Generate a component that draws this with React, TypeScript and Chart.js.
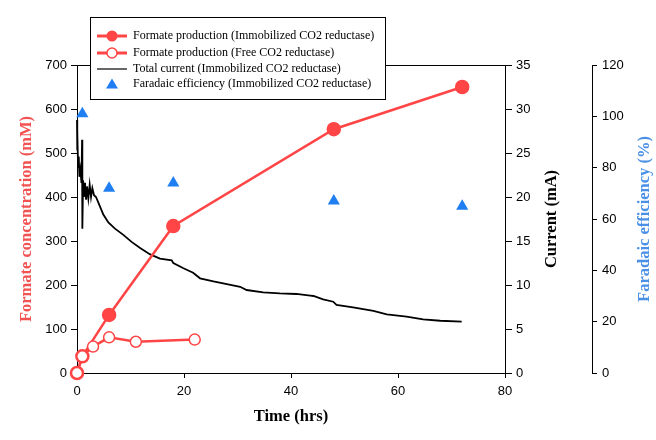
import React, { useEffect, useRef } from 'react';
import { Chart, registerables } from 'chart.js';

Chart.register(...registerables);

// ---- data ----
const timeImmob = [0, 1, 6, 18, 48, 72];
const formateImmob = [0, 38, 132, 334, 554, 650];

const timeFree = [0, 1, 3, 6, 11, 22];
const formateFree = [0, 38, 60, 81, 71, 76];

const timeFE = [1, 6, 18, 48, 72];
const faradaic = [101, 72, 74, 67, 65];

const timeCurrent = [
  0, 0.02, 0.08, 0.2, 0.33, 0.45, 0.64, 0.83, 0.95, 1.0, 1.14, 1.31, 1.5, 1.7, 1.87, 2.12, 2.37, 2.62,
  2.87, 3.18, 3.55, 4.17, 4.92, 5.86, 7.1, 8.66, 10.2, 11.8, 13.6, 15.5, 17.7, 18.0, 19.9, 21.7, 23.0,
  25.5, 28.0, 30.5, 31.7, 34.8, 37.9, 41.0, 43.6, 44.2, 46.0, 47.9, 48.5, 51.6, 55.4, 57.9, 61.6, 64.7,
  67.9, 71.9,
];
const current = [
  28.75, 25.3, 27.6, 23.4, 24.6, 22.3, 23.1, 21.6, 26.5, 16.4, 21.9, 20.0, 21.6, 19.7, 21.2, 19.85, 21.4,
  20.0, 21.0, 20.2, 20.0, 19.1, 18.0, 17.1, 16.4, 15.7, 14.9, 14.2, 13.5, 13.0, 12.8, 12.5, 11.9, 11.4,
  10.76, 10.4, 10.1, 9.8, 9.43, 9.17, 9.05, 8.98, 8.79, 8.75, 8.37, 8.1, 7.73, 7.46, 7.05, 6.67, 6.4, 6.1,
  5.94, 5.83,
];

const xRange = [0, 80, 20];
const formateRange = [0, 700, 100];
const currentRange = [0, 35, 5];
const feRange = [0, 120, 20];

const legendLabels = [
  'Formate production (Immobilized CO2 reductase)',
  'Formate production (Free CO2 reductase)',
  'Total current (Immobilized CO2 reductase)',
  'Faradaic efficiency (Immobilized CO2 reductase)',
];
const xTitle = 'Time (hrs)';
const yTitle = 'Formate concentration (mM)';
const curTitle = 'Current (mA)';
const feTitle = 'Faradaic efficiency (%)';

const RED = '#ff4545';
const RED_T = '#f25252';
const BLUE = '#1f7ff2';
const BLUE_T = '#4a90e6';

const zip = (xs: number[], ys: number[]) => xs.map((x, i) => ({ x, y: ys[i] }));

const tickFont = { family: 'Liberation Sans', size: 13 };

const overlay = {
  id: 'overlay',
  afterDraw(chart: any) {
    const ctx = chart.ctx as CanvasRenderingContext2D;
    const ca = chart.chartArea;
    ctx.save();
    // top frame
    ctx.strokeStyle = '#000';
    ctx.lineWidth = 1;
    ctx.beginPath();
    ctx.moveTo(ca.left, Math.round(ca.top) + 0.5);
    ctx.lineTo(ca.right, Math.round(ca.top) + 0.5);
    ctx.stroke();

    // titles
    const cy = (ca.top + ca.bottom) / 2;
    ctx.font = 'bold 16.5px "Liberation Serif"';
    ctx.textAlign = 'center';
    ctx.textBaseline = 'middle';
    const vt = (text: string, x: number, color: string) => {
      ctx.save();
      ctx.translate(x, cy);
      ctx.rotate(-Math.PI / 2);
      ctx.fillStyle = color;
      ctx.fillText(text, 0, 0);
      ctx.restore();
    };
    vt(yTitle, 27, RED_T);
    vt(curTitle, 552, '#000');
    vt(feTitle, 645, BLUE_T);
    ctx.fillStyle = '#000';
    ctx.fillText(xTitle, (ca.left + ca.right) / 2, 417);

    // legend
    const bx = 90.5, by = 17.5, bw = 295, bh = 82;
    ctx.fillStyle = '#fff';
    ctx.fillRect(bx, by, bw, bh);
    ctx.strokeStyle = '#000';
    ctx.lineWidth = 1;
    ctx.strokeRect(bx, by, bw, bh);
    const rows = [36, 53, 69, 84];
    const mx0 = 97, mx1 = 127, mc = 112;
    ctx.font = '12px "Liberation Serif"';
    ctx.textAlign = 'left';
    ctx.textBaseline = 'middle';
    rows.forEach((ry, i) => {
      if (i < 3) {
        ctx.strokeStyle = i < 2 ? RED : '#000';
        ctx.lineWidth = i < 2 ? 3 : 1.2;
        ctx.beginPath();
        ctx.moveTo(mx0, ry);
        ctx.lineTo(mx1, ry);
        ctx.stroke();
      }
      if (i === 0) {
        ctx.fillStyle = RED;
        ctx.beginPath();
        ctx.arc(mc, ry, 5.5, 0, Math.PI * 2);
        ctx.fill();
      } else if (i === 1) {
        ctx.fillStyle = '#fff';
        ctx.strokeStyle = RED;
        ctx.lineWidth = 1.5;
        ctx.beginPath();
        ctx.arc(mc, ry, 5, 0, Math.PI * 2);
        ctx.fill();
        ctx.stroke();
      } else if (i === 3) {
        ctx.fillStyle = BLUE;
        ctx.beginPath();
        ctx.moveTo(mc, ry - 5.5);
        ctx.lineTo(mc + 6, ry + 4.5);
        ctx.lineTo(mc - 6, ry + 4.5);
        ctx.closePath();
        ctx.fill();
      }
      ctx.fillStyle = '#000';
      ctx.fillText(legendLabels[i], 133, ry);
    });
    ctx.restore();
  },
};

const axisCommon = (tickLength: number) => ({
  grid: { drawOnChartArea: false, color: '#000', tickLength, tickWidth: 1 },
  border: { display: true, color: '#000', width: 1 },
});

export default function App() {
  const ref = useRef<HTMLCanvasElement | null>(null);
  useEffect(() => {
    document.body.style.margin = '0';
    const canvas = ref.current;
    if (!canvas) return;
    const chart = new Chart(canvas, {
      type: 'line',
      data: {
        datasets: [
          {
            label: legendLabels[1],
            data: zip(timeFree, formateFree),
            yAxisID: 'y',
            borderColor: RED,
            borderWidth: 2.5,
            backgroundColor: '#fff',
            pointBackgroundColor: '#fff',
            pointBorderColor: RED,
            pointBorderWidth: 1.5,
            pointRadius: 5.5,
            clip: 10,
            order: 0,
          },
          {
            label: legendLabels[0],
            data: zip(timeImmob, formateImmob),
            yAxisID: 'y',
            borderColor: RED,
            borderWidth: 2.5,
            backgroundColor: RED,
            pointBackgroundColor: RED,
            pointBorderColor: RED,
            pointRadius: 6,
            clip: 10,
            order: 1,
          },
          {
            label: legendLabels[3],
            data: zip(timeFE, faradaic),
            yAxisID: 'yFE',
            showLine: false,
            pointStyle: 'triangle',
            pointRadius: 7,
            pointBackgroundColor: BLUE,
            pointBorderColor: BLUE,
            pointBorderWidth: 0,
            borderColor: BLUE,
            backgroundColor: BLUE,
            clip: 10,
            order: 2,
          },
          {
            label: legendLabels[2],
            data: zip(timeCurrent, current),
            yAxisID: 'yCur',
            borderColor: '#000',
            borderWidth: 1.8,
            pointRadius: 0,
            clip: 2,
            order: 3,
          },
        ],
      },
      options: {
        responsive: false,
        animation: false,
        layout: { padding: { top: 65, left: 0, right: 0, bottom: 0 } },
        plugins: { legend: { display: false }, tooltip: { enabled: false } },
        scales: {
          x: {
            type: 'linear',
            min: xRange[0],
            max: xRange[1],
            ...axisCommon(5),
            ticks: { font: tickFont, color: '#000', padding: 6, stepSize: xRange[2] },
            afterFit: (s: any) => { s.height = 67; },
          },
          y: {
            type: 'linear',
            position: 'left',
            min: formateRange[0],
            max: formateRange[1],
            ...axisCommon(6),
            ticks: { font: tickFont, color: '#000', padding: 4, stepSize: formateRange[2] },
            afterFit: (s: any) => { s.width = 77; },
          },
          yCur: {
            type: 'linear',
            position: 'right',
            weight: 0,
            min: currentRange[0],
            max: currentRange[1],
            ...axisCommon(7),
            ticks: { font: tickFont, color: '#000', padding: 4, stepSize: currentRange[2] },
            afterFit: (s: any) => { s.width = 87; },
          },
          yFE: {
            type: 'linear',
            position: 'right',
            weight: 1,
            min: feRange[0],
            max: feRange[1],
            ...axisCommon(5),
            ticks: { font: tickFont, color: '#000', padding: 5, stepSize: feRange[2] },
            afterFit: (s: any) => { s.width = 64; },
          },
        },
      },
      plugins: [overlay],
    } as any);
    return () => chart.destroy();
  }, []);
  return (
    <div style={{ width: 656, height: 440 }}>
      <canvas ref={ref} width={656} height={440} style={{ display: 'block' }} />
    </div>
  );
}
